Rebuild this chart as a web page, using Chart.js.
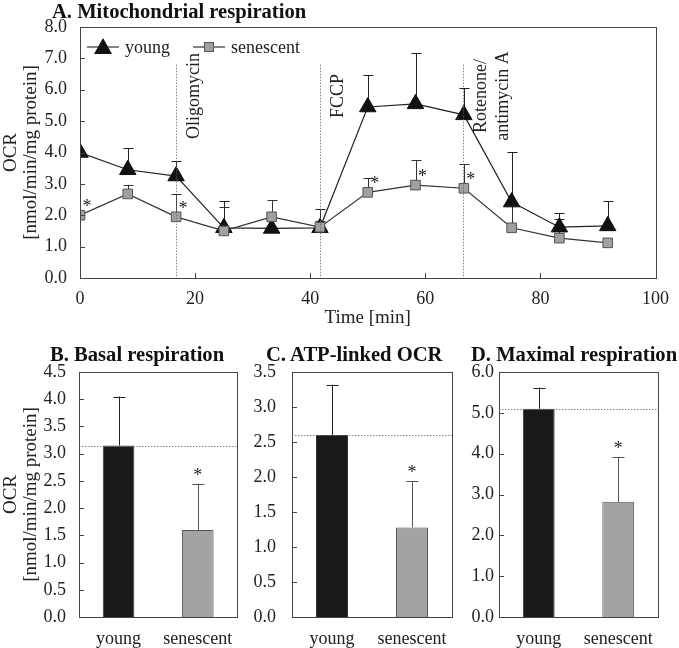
<!DOCTYPE html>
<html lang="en">
<head>
<meta charset="UTF-8">
<title>Mitochondrial respiration</title>
<script src="https://cdn.jsdelivr.net/npm/chart.js@4.4.0/dist/chart.umd.min.js"></script>
<style>
  body { margin: 0; background: #fff; }
  #wrap { position: relative; width: 679px; height: 648px; }
  #wrap canvas { position: absolute; }
  .ttl { position: absolute; font: bold 20.6px "Liberation Serif", serif; color: #111; white-space: nowrap; line-height: 1; }
</style>
</head>
<body>
<div id="wrap">
  <canvas id="cA" width="679" height="330" style="left:0;top:0"></canvas>
  <canvas id="cB" width="245" height="318" style="left:0;top:330px"></canvas>
  <canvas id="cC" width="215" height="318" style="left:245px;top:330px"></canvas>
  <canvas id="cD" width="219" height="318" style="left:460px;top:330px"></canvas>
  <div class="ttl" style="left:52px;top:1px">A. Mitochondrial respiration</div>
  <div class="ttl" style="left:50px;top:344px">B. Basal respiration</div>
  <div class="ttl" style="left:266px;top:344px">C. ATP-linked OCR</div>
  <div class="ttl" style="left:471px;top:344px">D. Maximal respiration</div>
</div>
<script>
// time course (min) and OCR values, mean and SD
const times = [0, 8.3, 16.7, 25, 33.3, 41.7, 50, 58.3, 66.7, 75, 83.3, 91.7];
const youngOCR = [4.0, 3.45, 3.25, 1.6, 1.58, 1.6, 5.45, 5.55, 5.2, 2.42, 1.62, 1.66];
const youngSD = [0, 0.69, 0.48, 0.85, 0, 0.6, 1.02, 1.62, 0.85, 1.59, 0.45, 0.79];
const senOCR = [2.0, 2.68, 1.95, 1.5, 1.95, 1.62, 2.73, 2.96, 2.86, 1.6, 1.27, 1.12];
const senSD = [0, 0.29, 0.73, 0.77, 0.53, 0.2, 0.46, 0.8, 0.76, 0.75, 0.61, 0];
const senStar = [1, 0, 1, 0, 0, 0, 1, 1, 1, 0, 0, 0];
const injTimes = [16.7, 41.7, 66.5];
const injNames = [['Oligomycin'], ['FCCP'], ['Rotenone/', 'antimycin A']];

const groups = ['young', 'senescent'];
const basal = [3.15, 1.6];
const basalSD = [0.9, 0.85];
const atpLinked = [2.6, 1.28];
const atpSD = [0.72, 0.66];
const maximal = [5.1, 2.82];
const maximalSD = [0.52, 1.1];
const groupStar = [0, 1];

const FONT = '"Liberation Serif", "Times New Roman", serif';
Chart.defaults.font.family = FONT;
Chart.defaults.font.size = 18;
Chart.defaults.color = '#222';
const axisTitleFont = { size: 19, lineHeight: 1.05 };

function legendIcon(kind) {
  const c = document.createElement('canvas');
  c.width = 32; c.height = 20;
  const g = c.getContext('2d');
  g.strokeStyle = '#333'; g.lineWidth = 1.2;
  g.beginPath(); g.moveTo(0, 10); g.lineTo(32, 10); g.stroke();
  if (kind === 'triangle') {
    g.fillStyle = '#111';
    g.beginPath(); g.moveTo(16, 1); g.lineTo(25, 17); g.lineTo(7, 17); g.closePath(); g.fill();
  } else {
    g.fillStyle = '#a0a0a0'; g.fillRect(11.5, 5.5, 9, 9);
    g.strokeStyle = '#555'; g.lineWidth = 1; g.strokeRect(11.5, 5.5, 9, 9);
  }
  return c;
}

// error bars, asterisks, frame, inward ticks, reference lines, legend
const deco = {
  id: 'deco',
  beforeDatasetsDraw(chart) {
    const ctx = chart.ctx, ys = chart.scales.y;
    chart.data.datasets.forEach((ds, i) => {
      if (!ds.sd) return;
      const meta = chart.getDatasetMeta(i);
      ctx.save();
      ctx.lineWidth = 1;
      meta.data.forEach((el, j) => {
        if (!ds.sd[j]) return;
        const v = meta.controller.getParsed(j).y;
        const top = ys.getPixelForValue(v + ds.sd[j]);
        const x = Math.round(el.x) + 0.5, cap = ds.cap || 5;
        ctx.strokeStyle = Array.isArray(ds.errColor) ? ds.errColor[j] : ds.errColor;
        ctx.beginPath();
        ctx.moveTo(x, el.y); ctx.lineTo(x, top);
        ctx.moveTo(x - cap, Math.round(top) + 0.5); ctx.lineTo(x + cap, Math.round(top) + 0.5);
        ctx.stroke();
      });
      ctx.restore();
    });
  },
  afterDatasetsDraw(chart) {
    const ctx = chart.ctx, ys = chart.scales.y;
    ctx.save();
    ctx.fillStyle = '#222';
    ctx.font = '18px ' + FONT;
    ctx.textAlign = 'center';
    ctx.textBaseline = 'alphabetic';
    chart.data.datasets.forEach((ds, i) => {
      if (!ds.star) return;
      const meta = chart.getDatasetMeta(i);
      meta.data.forEach((el, j) => {
        if (!ds.star[j]) return;
        let px, py;
        if (ds.starAbove) {
          const v = meta.controller.getParsed(j).y;
          px = el.x;
          py = ys.getPixelForValue(v + ds.sd[j]) - 12;
        } else {
          px = el.x + 7;
          py = el.y - 12;
        }
        ctx.fillText('*', px, py + 9);
      });
    });
    ctx.restore();
  },
  afterDraw(chart, args, opts) {
    const ctx = chart.ctx, a = chart.chartArea;
    ctx.save();
    // frame
    ctx.strokeStyle = '#444';
    ctx.lineWidth = 1;
    ctx.strokeRect(Math.round(a.left) + 0.5, Math.round(a.top) + 0.5,
      Math.round(a.right - a.left), Math.round(a.bottom - a.top));
    // inward ticks
    ctx.beginPath();
    chart.scales.y.ticks.forEach(t => {
      const y = Math.round(chart.scales.y.getPixelForValue(t.value)) + 0.5;
      ctx.moveTo(a.left, y); ctx.lineTo(a.left + 5, y);
    });
    if (opts.xTicks) {
      chart.scales.x.ticks.forEach(t => {
        const x = Math.round(chart.scales.x.getPixelForValue(t.value)) + 0.5;
        ctx.moveTo(x, a.bottom); ctx.lineTo(x, a.bottom - 5);
      });
    }
    ctx.stroke();
    // dotted reference lines
    ctx.strokeStyle = '#666';
    ctx.lineWidth = 0.8;
    ctx.setLineDash([1.5, 1.5]);
    if (opts.refLine) {
      const v = chart.data.datasets[0].data[0];
      const y = Math.round(chart.scales.y.getPixelForValue(v)) + 0.5;
      ctx.beginPath(); ctx.moveTo(a.left, y); ctx.lineTo(a.right, y); ctx.stroke();
    }
    ctx.setLineDash([]);
    ctx.fillStyle = '#222';
    ctx.font = '18px ' + FONT;
    if (opts.vLines) {
      const top = chart.scales.y.getPixelForValue(opts.vTop);
      const mid = chart.scales.y.getPixelForValue(opts.labelY);
      ctx.textAlign = 'center';
      ctx.textBaseline = 'middle';
      opts.vLines.forEach((t, k) => {
        const x = Math.round(chart.scales.x.getPixelForValue(t)) + 0.5;
        ctx.save();
        ctx.setLineDash([1.5, 1.5]);
        ctx.beginPath(); ctx.moveTo(x, top); ctx.lineTo(x, a.bottom); ctx.stroke();
        ctx.restore();
        opts.labels[k].forEach((line, n) => {
          ctx.save();
          ctx.translate(x + 18 + n * 22, mid);
          ctx.rotate(-Math.PI / 2);
          ctx.fillText(line, 0, 0);
          ctx.restore();
        });
      });
    }
    // legend inside the plot, young first
    if (opts.legend) {
      let x = a.left + 7;
      const y = a.top + 20;
      ctx.textAlign = 'left';
      ctx.textBaseline = 'middle';
      opts.legend.forEach(idx => {
        const ds = chart.data.datasets[idx];
        const icon = legendIcon(ds.pointStyle === 'triangle' ? 'triangle' : 'rect');
        ctx.drawImage(icon, x, y - 10);
        x += icon.width + 6;
        ctx.fillText(ds.label, x, y + 1);
        x += ctx.measureText(ds.label).width + 23;
      });
    }
    ctx.restore();
  }
};

const pts = vals => vals.map((v, i) => ({ x: times[i], y: v }));

new Chart(document.getElementById('cA'), {
  type: 'line',
  data: {
    datasets: [
      { label: 'senescent', data: pts(senOCR), sd: senSD, star: senStar, errColor: '#333',
        borderColor: '#333', borderWidth: 1.2, pointStyle: 'rect', pointRadius: 6.8,
        pointBackgroundColor: '#a0a0a0', pointBorderColor: '#555', pointBorderWidth: 1 },
      { label: 'young', data: pts(youngOCR), sd: youngSD, errColor: '#222',
        borderColor: '#222', borderWidth: 1.2, pointStyle: 'triangle', pointRadius: 9.5,
        pointBackgroundColor: '#111', pointBorderColor: '#111', pointBorderWidth: 1 }
    ]
  },
  options: {
    responsive: false, animation: false,
    layout: { padding: { top: 27, right: 21, left: 0, bottom: 0 } },
    plugins: {
      tooltip: { enabled: false },
      legend: { display: false },
      deco: { xTicks: true, vLines: injTimes, labels: injNames, vTop: 6.8, labelY: 5.8, legend: [1, 0] }
    },
    scales: {
      x: {
        type: 'linear', min: 0, max: 100,
        ticks: { stepSize: 20, padding: 10, maxRotation: 0 },
        grid: { display: false, drawTicks: false }, border: { display: false },
        title: { display: true, text: 'Time [min]', font: { size: 19 }, padding: { top: 0, bottom: 1 } },
        afterFit(s) { s.height = 52; }
      },
      y: {
        min: 0, max: 8,
        ticks: { stepSize: 1, padding: 13, callback: v => v.toFixed(1) },
        grid: { display: false, drawTicks: false }, border: { display: false },
        title: { display: true, text: ['OCR', '[nmol/min/mg protein]'], font: axisTitleFont, padding: { top: 1, bottom: 0 } },
        afterFit(s) { s.width = 80; }
      }
    }
  },
  plugins: [deco]
});

function barPanel(id, vals, sds, yMax, yStep, axisW, tickPad, rightPad, withTitle) {
  return new Chart(document.getElementById(id), {
    type: 'bar',
    data: {
      labels: groups,
      datasets: [{
        data: vals, sd: sds, star: groupStar, starAbove: true, cap: 6,
        errColor: ['#222', '#555'],
        backgroundColor: ['#1a1a1a', '#a3a3a3'], borderColor: ['#333', '#555'], borderWidth: 1,
        barPercentage: 0.4, categoryPercentage: 1
      }]
    },
    options: {
      responsive: false, animation: false,
      layout: { padding: { top: 42, right: rightPad, left: 0, bottom: 0 } },
      plugins: { legend: { display: false }, tooltip: { enabled: false }, deco: { refLine: true } },
      scales: {
        x: {
          ticks: { padding: 11 },
          grid: { display: false, drawTicks: false }, border: { display: false },
          afterFit(s) { s.height = 31; }
        },
        y: {
          min: 0, max: yMax,
          ticks: { stepSize: yStep, padding: tickPad, callback: v => v.toFixed(1) },
          grid: { display: false, drawTicks: false }, border: { display: false },
          title: { display: withTitle, text: ['OCR', '[nmol/min/mg protein]'], font: axisTitleFont, padding: { top: 1, bottom: 0 } },
          afterFit(s) { s.width = axisW; }
        }
      }
    },
    plugins: [deco]
  });
}

barPanel('cB', basal, basalSD, 4.5, 0.5, 79, 13, 7, true);
barPanel('cC', atpLinked, atpSD, 3.5, 0.5, 47, 16, 8, false);
barPanel('cD', maximal, maximalSD, 6, 1, 39, 5, 21, false);
</script>
</body>
</html>
